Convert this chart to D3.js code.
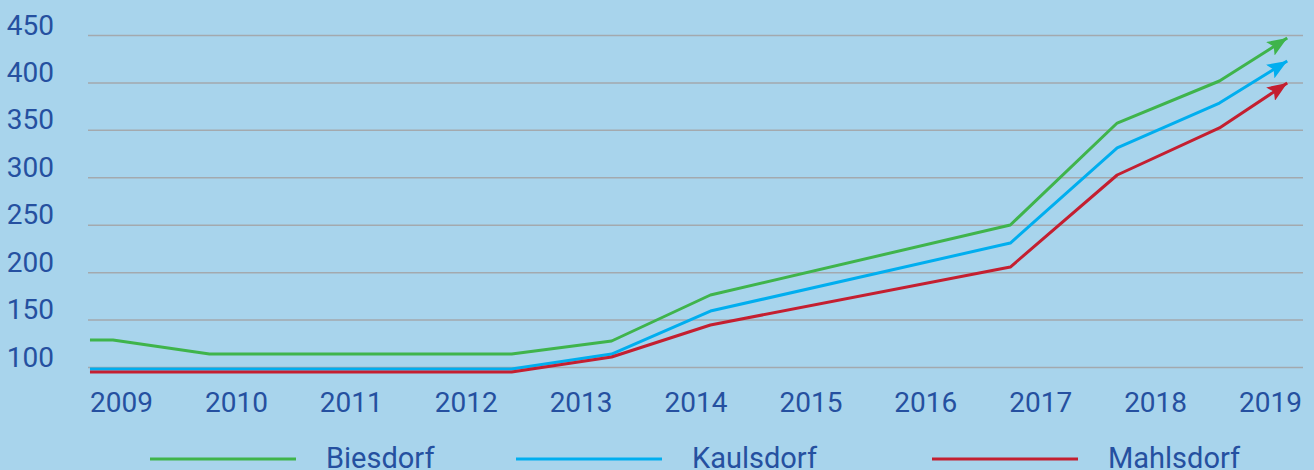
<!DOCTYPE html>
<html>
<head>
<meta charset="utf-8">
<script src="https://cdn.jsdelivr.net/npm/d3@7"></script>
<style>
  html, body { margin: 0; padding: 0; background: #a8d4ec; }
  svg { display: block; font-family: Roboto, "DejaVu Sans", sans-serif; }
</style>
</head>
<body>
<main></main>
<script>
const width = 1314;
const height = 470;

// data
const years = [2009, 2010, 2011, 2012, 2013, 2014, 2015, 2016, 2017, 2018, 2019];
const yTicks = [100, 150, 200, 250, 300, 350, 400, 450];
const seriesNames = ['Biesdorf', 'Kaulsdorf', 'Mahlsdorf'];
const seriesColors = ['#3fb44b', '#00aeef', '#c41f30'];
// x positions of the vertices (in years)
const pointYears = [2008.73, 2008.93, 2009.77, 2012.40, 2013.27, 2014.13, 2016.74, 2017.67, 2018.56, 2019.15];
const biesdorf  = [128.5, 128.5, 113.7, 113.7, 127.4, 175.9, 249.7, 357.2, 401.5, 446.8];
const kaulsdorf = [97.9, 97.9, 97.9, 97.9, 113.7, 159.0, 230.7, 330.9, 378.3, 422.6];
const mahlsdorf = [94.7, 94.7, 94.7, 94.7, 110.5, 144.3, 205.4, 302.4, 352.0, 399.4];

const series = [biesdorf, kaulsdorf, mahlsdorf];
const legendX = [150, 516, 932];

const xScale = d3.scaleLinear().domain([2009, 2019]).range([121, 1270]);
const yScale = d3.scaleLinear().domain([100, 450]).range([367, 35]);

const svg = d3.select('main')
              .append('svg')
              .attr('width', width)
              .attr('height', height);

svg.append('rect')
   .attr('width', width)
   .attr('height', height)
   .attr('fill', '#a8d4ec');

// arrow heads
const defs = svg.append('defs');
seriesColors.forEach((c, i) => {
    defs.append('marker')
        .attr('id', 'arrow' + i)
        .attr('markerUnits', 'userSpaceOnUse')
        .attr('viewBox', '0 0 20 16')
        .attr('refX', 20)
        .attr('refY', 8)
        .attr('markerWidth', 20)
        .attr('markerHeight', 16)
        .attr('orient', 'auto')
        .append('path')
        .attr('d', 'M0,0 L20,8 L0,16 L4,8 Z')
        .attr('fill', c);
});

// y axis with grid
const yAxis = svg.append('g')
   .attr('transform', 'translate(88,0)')
   .call(d3.axisLeft(yScale).tickValues(yTicks).tickSize(-(1303 - 88)).tickPadding(34));
yAxis.select('.domain').remove();
yAxis.selectAll('line').attr('stroke', '#a3a9ae').attr('stroke-width', 1.5);
yAxis.selectAll('text')
     .attr('dy', '-1')
     .attr('fill', '#2550a0')
     .style('font-size', '28px')
     .style('font-family', 'Roboto, sans-serif');

// x axis labels
const xAxis = svg.append('g')
   .attr('transform', 'translate(0,367)')
   .call(d3.axisBottom(xScale).tickValues(years).tickFormat(d3.format('d')).tickSize(0).tickPadding(0));
xAxis.select('.domain').remove();
xAxis.selectAll('text')
     .attr('y', 45)
     .attr('dy', '0')
     .attr('fill', '#2550a0')
     .style('font-size', '28px')
     .style('font-family', 'Roboto, sans-serif');

// lines
const line = d3.line()
               .x((d, i) => xScale(pointYears[i]))
               .y(d => yScale(d));

svg.selectAll('.series')
   .data(series)
   .enter()
   .append('path')
   .attr('class', 'series')
   .attr('d', d => line(d))
   .attr('fill', 'none')
   .attr('stroke', (d, i) => seriesColors[i])
   .attr('stroke-width', 3)
   .attr('stroke-linejoin', 'round')
   .attr('marker-end', (d, i) => 'url(#arrow' + i + ')');

// legend
const legend = svg.selectAll('.legend')
   .data(seriesNames)
   .enter()
   .append('g')
   .attr('class', 'legend')
   .attr('transform', (d, i) => 'translate(' + legendX[i] + ',459)');

legend.append('line')
      .attr('x1', 0)
      .attr('x2', 146)
      .attr('stroke', (d, i) => seriesColors[i])
      .attr('stroke-width', 3);

legend.append('text')
      .attr('x', 176)
      .attr('y', 9)
      .attr('fill', '#2550a0')
      .style('font-size', '29px')
      .text(d => d);
</script>
</body>
</html>
